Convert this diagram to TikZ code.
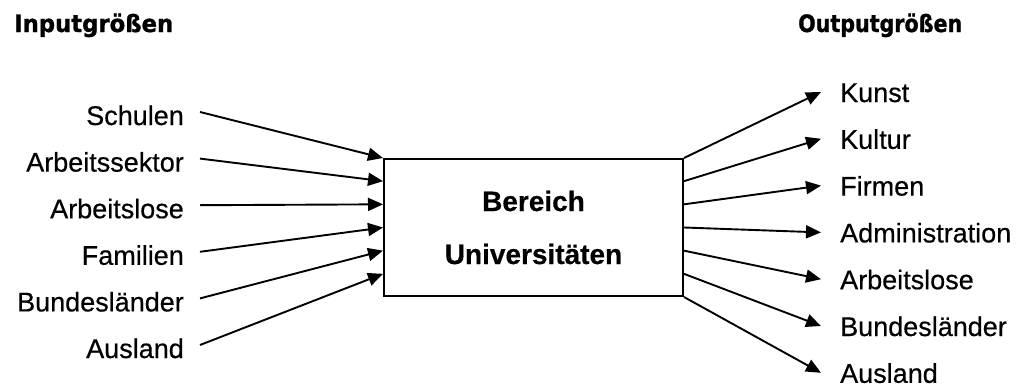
\documentclass[tikz,border=0pt]{standalone}
\usepackage{graphicx}
\usepackage{fontspec}
\setmainfont{Liberation Sans}
\newfontfamily\labfont{Liberation Sans}[FakeBold=0.5]
\newfontfamily\boxfont{Liberation Sans Bold}[FakeBold=0.4]
\newfontfamily\headfont{DejaVu Sans Bold}[FakeBold=1.2]
\usetikzlibrary{arrows.meta,calc}

\begin{document}
\begin{tikzpicture}[x=1pt,y=-1pt,
  lab/.style={font=\labfont\fontsize{27}{32}\selectfont, inner sep=0pt},
  head/.style={anchor=base west, inner sep=0pt},
  flow/.style={line width=1.9pt, -{Triangle[length=15pt,width=13pt]}},
  unit/.style={draw, line width=2pt, minimum width=299pt, minimum height=137pt,
    inner sep=0pt, align=center, font=\boxfont\fontsize{28}{53}\selectfont}]
\useasboundingbox (0,0) rectangle (1020,388);

% column headings
\node[head] (hin) at (14,32) {\resizebox{159pt}{18.5pt}{\headfont Inputgrößen}};
\node[head] (hout) at (798,32) {\resizebox{164pt}{18.5pt}{\headfont Outputgrößen}};

% central block
\node[unit] (uni) at (533.5,227.5) {Bereich\\Universitäten};

% inputs
\foreach \t [count=\i from 0] in {Schulen,Arbeitssektor,Arbeitslose,Familien,Bundesländer,Ausland} {
  \node[lab, anchor=base east] (src\i) at (184, 125+46.6*\i) {\t};
  \draw[flow] ($(src\i.base east)+(16,-13)$) -- ($(uni.north west)!\i/6!(uni.south west)$);
}

% outputs
\foreach \t [count=\i from 0] in {Kunst,Kultur,Firmen,Administration,Arbeitslose,Bundesländer,Ausland} {
  \node[lab, anchor=base west] (dst\i) at (840, 102+46.8*\i) {\t};
  \draw[flow] ($(uni.north east)!\i/6!(uni.south east)$) -- ($(dst\i.base west)+(-19,-10)$);
}
\end{tikzpicture}
\end{document}
